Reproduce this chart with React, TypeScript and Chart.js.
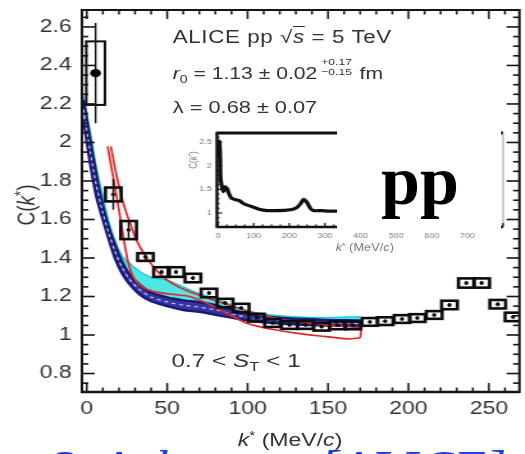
import React, { useEffect, useRef } from "react";
import { Chart, registerables } from "chart.js";

Chart.register(...registerables);

// ---------------- data ----------------
const kValues = [5.5, 16.5, 26, 36.5, 46.5, 55.5, 66, 76, 86, 96, 105.5, 115.5, 126, 136, 146, 156, 165.5, 176, 185.5, 196, 205.5, 216, 225.5, 236, 245.5, 255.5, 265];
const cValues = [2.36, 1.73, 1.545, 1.405, 1.327, 1.327, 1.296, 1.218, 1.166, 1.14, 1.09, 1.062, 1.052, 1.052, 1.043, 1.05, 1.05, 1.068, 1.072, 1.083, 1.088, 1.104, 1.156, 1.27, 1.27, 1.16, 1.094];
const statErrors = [0.26, 0.08, 0.045, 0.015, 0.012, 0.012, 0.01, 0.01, 0.01, 0.01, 0.008, 0.008, 0.008, 0.008, 0.008, 0.008, 0.008, 0.008, 0.008, 0.008, 0.008, 0.008, 0.01, 0.01, 0.01, 0.01, 0.01];
const systErrors = [0.165, 0.036, 0.047, 0.02, 0.025, 0.025, 0.022, 0.022, 0.022, 0.022, 0.02, 0.02, 0.02, 0.02, 0.02, 0.02, 0.02, 0.02, 0.02, 0.02, 0.02, 0.02, 0.022, 0.024, 0.024, 0.022, 0.022];

// model bands
const modelK = [-2, 2, 6, 10, 14, 18, 22, 27, 33, 40, 50, 60, 70, 80, 100, 120, 145, 170];
const navyLowerC = [2.12, 1.9, 1.72, 1.6, 1.49, 1.39, 1.32, 1.26, 1.21, 1.175, 1.15, 1.13, 1.12, 1.105, 1.075, 1.06, 1.05, 1.045];
const navyMidC = [2.17, 1.96, 1.775, 1.635, 1.52, 1.425, 1.35, 1.285, 1.235, 1.197, 1.172, 1.155, 1.145, 1.13, 1.092, 1.075, 1.065, 1.06];
const navyUpperC = [2.22, 2.02, 1.83, 1.67, 1.55, 1.46, 1.38, 1.31, 1.26, 1.22, 1.195, 1.18, 1.17, 1.155, 1.11, 1.09, 1.08, 1.075];
const cyanUpperC = [2.24, 2.06, 1.87, 1.72, 1.58, 1.48, 1.41, 1.37, 1.33, 1.3, 1.285, 1.25, 1.215, 1.19, 1.125, 1.1, 1.09, 1.095];

const redUpperK = [15, 18, 21, 24, 27, 31, 37, 44, 50, 57, 64, 76, 90, 110, 130, 150, 170, 170];
const redUpperC = [1.98, 1.85, 1.74, 1.65, 1.58, 1.49, 1.405, 1.33, 1.285, 1.25, 1.225, 1.19, 1.15, 1.1, 1.07, 1.05, 1.036, 0.985];
const redLowerK = [13, 16, 19, 22, 24, 26, 29, 33, 38, 45, 55, 64, 76, 90, 100, 115, 130, 145, 162, 170];
const redLowerC = [1.98, 1.84, 1.7, 1.55, 1.45, 1.37, 1.3, 1.26, 1.235, 1.22, 1.21, 1.2, 1.16, 1.1, 1.06, 1.03, 1.01, 0.995, 0.98, 0.985];

// inset curve
const insetK = [1, 2, 4, 6, 7, 11, 15, 20, 25, 30, 38, 50, 60, 71, 85, 100, 115, 137, 160, 193, 210, 222, 232, 240, 250, 259, 268, 290, 310, 334, 360];
const insetC = [2.55, 2.2, 2.5, 2.15, 1.75, 1.55, 1.45, 1.55, 1.52, 1.42, 1.31, 1.28, 1.26, 1.2, 1.16, 1.12, 1.08, 1.05, 1.05, 1.06, 1.08, 1.12, 1.2, 1.29, 1.22, 1.1, 1.05, 1.05, 1.04, 1.04, 1.03];

// ticks
const xTicks = [0, 50, 100, 150, 200, 250];
const yTicks = [0.8, 1, 1.2, 1.4, 1.6, 1.8, 2, 2.2, 2.4, 2.6];
const insetXTicks = [0, 100, 200, 300, 400, 500, 600, 700];
const insetYTicks = [1, 1.5, 2, 2.5];

// ---------------- layout / style constants ----------------
const SX = 1.28; // horizontal stretch of the original picture
const W0 = 410;
const H = 454;
const SANS = '"Liberation Sans", Arial, Helvetica, sans-serif';
const SERIF = '"Liberation Serif", "Times New Roman", serif';
const TEXT = "#333";
const BOX_HALF = 4.9;
const FIRST_BOX_HALF = 5.8;
const X_MINOR = 10;
const Y_MINOR = 0.05;

const pts = (xs: number[], ys: number[]) => xs.map((x, i) => ({ x, y: ys[i] }));

function line(ctx: CanvasRenderingContext2D, x0: number, y0: number, x1: number, y1: number) {
  ctx.beginPath();
  ctx.moveTo(x0, y0);
  ctx.lineTo(x1, y1);
  ctx.stroke();
}

const mainDecor = {
  id: "mainDecor",
  afterDatasetsDraw(chart: any) {
    const { ctx, chartArea } = chart;
    const xs = chart.scales.x;
    const ys = chart.scales.y;
    ctx.save();
    ctx.beginPath();
    ctx.rect(chartArea.left, chartArea.top, chartArea.right - chartArea.left, chartArea.bottom - chartArea.top);
    ctx.clip();
    ctx.strokeStyle = "#0d0d0d";
    kValues.forEach((k, i) => {
      const hw = i === 0 ? FIRST_BOX_HALF : BOX_HALF;
      const x0 = xs.getPixelForValue(k - hw);
      const x1 = xs.getPixelForValue(k + hw);
      const yt = ys.getPixelForValue(cValues[i] + systErrors[i]);
      const yb = ys.getPixelForValue(cValues[i] - systErrors[i]);
      ctx.lineWidth = i === 0 ? 2 : 2.6;
      ctx.strokeRect(x0, yt, x1 - x0, yb - yt);
      const xc = xs.getPixelForValue(k);
      ctx.lineWidth = 1.4;
      line(ctx, xc, ys.getPixelForValue(cValues[i] + statErrors[i]), xc, ys.getPixelForValue(cValues[i] - statErrors[i]));
    });
    ctx.restore();
  },
  afterDraw(chart: any) {
    const { ctx, chartArea } = chart;
    const { left, right, top, bottom } = chartArea;
    const xs = chart.scales.x;
    const ys = chart.scales.y;
    ctx.save();
    ctx.strokeStyle = "#151515";
    ctx.lineWidth = 2;
    ctx.strokeRect(left, top, right - left, bottom - top);
    ctx.lineWidth = 2.6;
    line(ctx, left - 1, bottom, right, bottom);
    ctx.lineWidth = 1.5;
    for (let v = 0; v <= xs.max; v += X_MINOR) {
      const px = xs.getPixelForValue(v);
      const len = v % 50 === 0 ? 9 : 4.5;
      line(ctx, px, bottom, px, bottom - len);
      line(ctx, px, top, px, top + len);
    }
    ctx.lineWidth = 1.6;
    for (let i = Math.ceil(ys.min / Y_MINOR); i * Y_MINOR <= ys.max; i++) {
      const py = ys.getPixelForValue(i * Y_MINOR);
      const len = i % 4 === 0 ? 10 : 5;
      line(ctx, left, py, left + len, py);
      line(ctx, right, py, right - len, py);
    }
    ctx.restore();
  },
};

const insetDecor = {
  id: "insetDecor",
  afterDraw(chart: any) {
    const { ctx, chartArea } = chart;
    const { left, right, top, bottom } = chartArea;
    const xs = chart.scales.x;
    const ys = chart.scales.y;
    ctx.save();
    ctx.strokeStyle = "#111";
    ctx.lineWidth = 3;
    line(ctx, left - 1, top, right, top);
    ctx.lineWidth = 2.4;
    line(ctx, left, top, left, bottom);
    line(ctx, left - 1, bottom, right, bottom);
    ctx.strokeStyle = "#9a9a9a";
    ctx.lineWidth = 1;
    line(ctx, right, top, right, bottom);
    ctx.strokeStyle = "#111";
    ctx.lineWidth = 1.2;
    for (let v = 0; v <= xs.max; v += 25) {
      const px = xs.getPixelForValue(v);
      const len = v % 100 === 0 ? 4 : 2.5;
      line(ctx, px, bottom, px, bottom - len);
    }
    for (let i = 8; i * 0.1 <= ys.max; i++) {
      const py = ys.getPixelForValue(i * 0.1);
      const len = i % 5 === 0 ? 4 : 2;
      line(ctx, left, py, left + len, py);
    }
    ctx.restore();
  },
};

function mainConfig(): any {
  const tickFont = { family: SANS, size: 18 };
  return {
    type: "scatter",
    data: {
      datasets: [
        {
          label: "data",
          data: pts(kValues, cValues),
          showLine: false,
          pointRadius: (c: any) => (c.dataIndex === 0 ? 4.2 : 1.7),
          pointBackgroundColor: "#000",
          pointBorderWidth: 0,
        },
        { label: "model red upper", data: pts(redUpperK, redUpperC), showLine: true, borderColor: "#e3272c", borderWidth: 1.7, pointRadius: 0, tension: 0.25, fill: false },
        { label: "model red lower", data: pts(redLowerK, redLowerC), showLine: true, borderColor: "#e3272c", borderWidth: 1.7, pointRadius: 0, tension: 0.25, fill: false },
        { label: "model navy mid", data: pts(modelK, navyMidC), showLine: true, borderColor: "rgba(235,235,255,0.85)", borderWidth: 1.1, borderDash: [3, 3], pointRadius: 0, tension: 0.3, fill: false },
        { label: "model navy lower", data: pts(modelK, navyLowerC), showLine: true, borderColor: "#1a1a72", borderWidth: 2.4, pointRadius: 0, tension: 0.3, fill: false },
        { label: "model navy upper", data: pts(modelK, navyUpperC), showLine: true, borderColor: "#1a1a72", borderWidth: 2.4, pointRadius: 0, tension: 0.3, fill: { target: 4 }, backgroundColor: "#3434a4" },
        { label: "model cyan", data: pts(modelK, cyanUpperC), showLine: true, borderColor: "#1fcfd6", borderWidth: 1.5, pointRadius: 0, tension: 0.3, fill: { target: 5 }, backgroundColor: "#4fe6e6" },
      ],
    },
    options: {
      animation: false,
      responsive: false,
      events: [],
      layout: { padding: { top: 10, right: 1, left: 0, bottom: 0 } },
      plugins: { legend: { display: false }, tooltip: { enabled: false } },
      scales: {
        x: {
          type: "linear",
          min: -3,
          max: 269,
          grid: { display: false, drawTicks: false },
          border: { display: false },
          afterBuildTicks: (a: any) => {
            a.ticks = xTicks.map((v) => ({ value: v }));
          },
          afterFit: (a: any) => {
            a.height = 62;
            a.paddingLeft = 0;
            a.paddingRight = 0;
          },
          ticks: { font: tickFont, color: TEXT, padding: 6, maxRotation: 0, autoSkip: false, callback: (v: any) => String(v) },
        },
        y: {
          type: "linear",
          min: 0.704,
          max: 2.688,
          grid: { display: false, drawTicks: false },
          border: { display: false },
          afterBuildTicks: (a: any) => {
            a.ticks = yTicks.map((v) => ({ value: v }));
          },
          afterFit: (a: any) => {
            a.width = 64;
            a.paddingTop = 0;
            a.paddingBottom = 0;
          },
          ticks: { font: tickFont, color: TEXT, padding: 8, autoSkip: false, callback: (v: any) => String(v) },
        },
      },
    },
    plugins: [mainDecor],
  };
}

function insetConfig(): any {
  const f = { family: SANS, size: 7 };
  return {
    type: "scatter",
    data: {
      datasets: [
        { label: "inset", data: pts(insetK, insetC), showLine: true, borderColor: "#111", borderWidth: 3.2, pointRadius: 0, tension: 0.2, fill: false },
      ],
    },
    options: {
      animation: false,
      responsive: false,
      events: [],
      layout: { padding: { top: 8, right: 3, left: 0, bottom: 0 } },
      plugins: { legend: { display: false }, tooltip: { enabled: false } },
      scales: {
        x: {
          type: "linear",
          min: -3,
          max: 800,
          grid: { display: false, drawTicks: false },
          border: { display: false },
          afterBuildTicks: (a: any) => {
            a.ticks = insetXTicks.map((v) => ({ value: v }));
          },
          afterFit: (a: any) => {
            a.height = 28;
            a.paddingLeft = 0;
            a.paddingRight = 0;
          },
          ticks: { font: f, color: "#7a7a7a", padding: 5, maxRotation: 0, autoSkip: false, callback: (v: any) => String(v) },
        },
        y: {
          type: "linear",
          min: 0.704,
          max: 2.69,
          grid: { display: false, drawTicks: false },
          border: { display: false },
          afterBuildTicks: (a: any) => {
            a.ticks = insetYTicks.map((v) => ({ value: v }));
          },
          afterFit: (a: any) => {
            a.width = 29.5;
            a.paddingTop = 0;
            a.paddingBottom = 0;
          },
          ticks: { font: f, color: "#7a7a7a", padding: 4, autoSkip: false, callback: (v: any) => String(v) },
        },
      },
    },
    plugins: [insetDecor],
  };
}

function Txt(props: { x: number; base: number; size: number; family?: string; color?: string; style?: any; children: any }) {
  const fam = props.family || SANS;
  const ratio = fam === SANS ? 0.8465 : 0.8375;
  return (
    <div
      style={{
        position: "absolute",
        left: props.x,
        top: props.base - ratio * props.size,
        fontFamily: fam,
        fontSize: props.size,
        lineHeight: `${props.size}px`,
        color: props.color || TEXT,
        whiteSpace: "nowrap",
        ...(props.style || {}),
      }}
    >
      {props.children}
    </div>
  );
}

export default function App() {
  const mainRef = useRef<HTMLCanvasElement>(null);
  const insetRef = useRef<HTMLCanvasElement>(null);

  useEffect(() => {
    document.body.style.margin = "0";
    const main = new Chart(mainRef.current as HTMLCanvasElement, mainConfig());
    const inset = new Chart(insetRef.current as HTMLCanvasElement, insetConfig());
    return () => {
      main.destroy();
      inset.destroy();
    };
  }, []);

  return (
    <div style={{ position: "relative", width: 525, height: H, overflow: "hidden", background: "#fff" }}>
      <div style={{ position: "absolute", left: 0, top: 0, width: W0, height: H, transform: `scaleX(${SX})`, transformOrigin: "0 0" }}>
        <canvas ref={mainRef} width={W0} height={H} style={{ position: "absolute", left: 0, top: 0 }} />
        <canvas ref={insetRef} width={256} height={130} style={{ position: "absolute", left: 140, top: 125 }} />

        <Txt x={135} base={44} size={17.5} style={{ letterSpacing: "0.45px" }}>
          ALICE pp <span>√<span style={{ textDecoration: "overline", fontStyle: "italic" }}>s</span></span> = 5 TeV
        </Txt>
        <Txt x={135} base={79} size={16.5}>
          <i>r</i>
          <span style={{ fontSize: 11, position: "relative", top: 4 }}>0</span> = 1.13 ± 0.02
          <span style={{ display: "inline-block", position: "relative", width: 25, height: 0, marginLeft: 3, marginRight: 5 }}>
            <span style={{ position: "absolute", left: 0, top: -22.5, fontSize: 9.5, lineHeight: "10px" }}>+0.17</span>
            <span style={{ position: "absolute", left: 0, top: -12, fontSize: 9.5, lineHeight: "10px" }}>−0.15</span>
          </span>
          fm
        </Txt>
        <Txt x={135} base={113} size={17}>
          λ = 0.68 ± 0.07
        </Txt>
        <Txt x={134} base={367} size={19}>
          0.7 &lt; <i>S</i>
          <span style={{ fontSize: 13, position: "relative", top: 4 }}>T</span> &lt; 1
        </Txt>

        {/* main axis titles */}
        <Txt x={126.6} base={446} size={18} style={{ width: 200, textAlign: "center" }}>
          <i>k</i>
          <span style={{ fontSize: 12, position: "relative", top: -6 }}>*</span> (MeV/<i>c</i>)
        </Txt>
        <div
          style={{
            position: "absolute",
            left: 21 - 60,
            top: 205 - 11,
            width: 120,
            height: 22,
            lineHeight: "22px",
            textAlign: "center",
            fontFamily: SANS,
            fontSize: 19,
            color: TEXT,
            transform: "rotate(-90deg)",
            transformOrigin: "50% 50%",
            whiteSpace: "nowrap",
          }}
        >
          C(<i>k</i>
          <span style={{ fontSize: 13, position: "relative", top: -6 }}>*</span>)
        </div>

        {/* inset axis titles */}
        <Txt x={235} base={251} size={10} color="#7a7a7a" style={{ width: 100, textAlign: "center" }}>
          <i>k</i>
          <span style={{ fontSize: 7, position: "relative", top: -3 }}>*</span> (MeV/<i>c</i>)
        </Txt>
        <div
          style={{
            position: "absolute",
            left: 152 - 25,
            top: 160 - 5,
            width: 50,
            height: 10,
            lineHeight: "10px",
            textAlign: "center",
            fontFamily: SANS,
            fontSize: 8,
            color: "#7a7a7a",
            transform: "rotate(-90deg)",
            whiteSpace: "nowrap",
          }}
        >
          C(<i>k</i>
          <span style={{ fontSize: 6, position: "relative", top: -3 }}>*</span>)
        </div>
      </div>

      {/* overlay box with "pp" */}
      <div style={{ position: "absolute", left: 337, top: 124, width: 164, height: 107, background: "#fff" }} />
      <Txt x={381} base={205} size={70} family={SERIF} color="#000" style={{ fontWeight: "bold" }}>
        pp
      </Txt>

      {/* blue citation, cut at the bottom edge */}
      <Txt x={47} base={487} size={53} family={SERIF} color="#1f3cf0" style={{ fontStyle: "italic" }}>
        S. Acharya
      </Txt>
      <Txt x={318} base={487} size={53} family={SERIF} color="#1f3cf0" style={{ fontStyle: "italic" }}>
        [ALICE]
      </Txt>
    </div>
  );
}
